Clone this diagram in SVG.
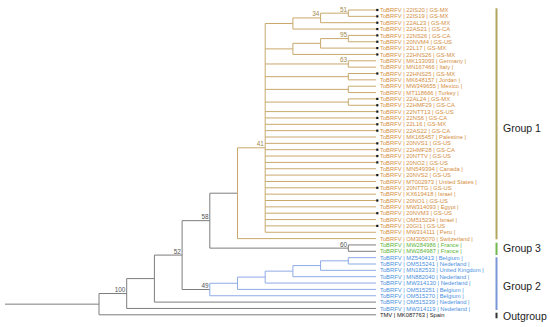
<svg xmlns="http://www.w3.org/2000/svg" width="550" height="327" viewBox="0 0 550 327">
<style>
.br{fill:none;stroke-width:1}
.gy{stroke:#7d7d7d}
.or{stroke:#c9a86c}
.bl{stroke:#8eabe6}
.t{font-family:"Liberation Sans",Arial,sans-serif;font-size:5.8px}
.to{fill:#d48e3e}
.tg{fill:#5cb53a}
.tb{fill:#4a8fe0}
.tk{fill:#222}
.bs{font-family:"Liberation Sans",Arial,sans-serif;font-size:6.4px;text-anchor:end;fill:#555}
.bso{fill:#a38a50}
.gl{font-family:"Liberation Sans",Arial,sans-serif;font-size:10.5px;fill:#222}
.mk{fill:#111}
</style>
<rect width="550" height="327" fill="#fff"/>
<g id="connectors">
<path class="br gy" d="M5,304.16H99M99,293.52V314.8M99,314.8H376M99,293.52H126.7M126.7,278.6V308.45M126.7,308.45H376M126.7,278.6H154.4M154.4,255.09V302.1M154.4,302.1H376M154.4,255.09H182.1M182.1,220.67V289.5M182.1,289.5H209.8M182.1,220.67H209.8M209.8,193.2V248.13M209.8,193.2H237.5M209.8,248.13H348.3M348.3,244.95V251.3M348.3,244.95H376M348.3,251.3H376"/>
<path class="br or" d="M237.5,147.81V238.6M237.5,238.6H376M237.5,147.81H265.2M265.2,23.49V232.25
M265.2,23.49H292.9M292.9,17.94V29.05M292.9,29.05H376M292.9,17.94H320.6M320.6,13.18V22.7M320.6,22.7H376M320.6,13.18H348.3M348.3,10V16.35M348.3,10H376M348.3,16.35H376
M265.2,48.89H292.9M292.9,43.34V54.45M292.9,54.45H376M292.9,43.34H320.6M320.6,38.58V48.1M320.6,48.1H376M320.6,38.58H348.3M348.3,35.4V41.75M348.3,35.4H376M348.3,41.75H376
M265.2,63.98H348.3M348.3,60.8V67.15M348.3,60.8H376M348.3,67.15H376
M265.2,76.68H348.3M348.3,73.5V79.85M348.3,73.5H376M348.3,79.85H376
M265.2,89.38H348.3M348.3,86.2V92.55M348.3,86.2H376M348.3,92.55H376
M265.2,102.08H348.3M348.3,98.9V105.25M348.3,98.9H376M348.3,105.25H376
M265.2,111.6H376M265.2,117.95H376M265.2,124.3H376M265.2,130.65H376M265.2,137H376M265.2,143.35H376M265.2,149.7H376M265.2,156.05H376M265.2,162.4H376M265.2,168.75H376M265.2,175.1H376M265.2,181.45H376M265.2,187.8H376M265.2,194.15H376M265.2,200.5H376M265.2,206.85H376M265.2,213.2H376M265.2,219.55H376M265.2,225.9H376M265.2,232.25H376"/>
<path class="br bl" d="M209.8,283.25V295.75M209.8,295.75H376M209.8,283.25H237.5M237.5,277.1V289.4M237.5,289.4H376M237.5,277.1H265.2M265.2,271.14V283.05M265.2,283.05H376M265.2,271.14H292.9M292.9,265.59V276.7M292.9,276.7H376M292.9,265.59H320.6M320.6,260.83V270.35M320.6,270.35H376M320.6,260.83H348.3M348.3,257.65V264M348.3,257.65H376M348.3,264H376"/>
</g>
<g id="bootstrap">
<text class="bs bso" x="347" y="11.5">51</text>
<text class="bs bso" x="319.3" y="16.2">34</text>
<text class="bs bso" x="347" y="36.9">95</text>
<text class="bs bso" x="347" y="62.3">63</text>
<text class="bs bso" x="263.9" y="145.8">41</text>
<text class="bs" x="208.5" y="219">58</text>
<text class="bs" x="347" y="246.6">60</text>
<text class="bs" x="180.8" y="253.6">52</text>
<text class="bs" x="208.5" y="288">49</text>
<text class="bs" x="125.4" y="291.8">100</text>
</g>
<g id="tips">
<g id="tip-22IS20"><rect class="mk" x="376.2" y="8.9" width="2.2" height="2.2"/><text class="t to" x="380" y="12.1">ToBRFV | 22IS20 | GS-MX</text></g>
<g id="tip-22IS19"><rect class="mk" x="376.2" y="15.25" width="2.2" height="2.2"/><text class="t to" x="380" y="18.45">ToBRFV | 22IS19 | GS-MX</text></g>
<g id="tip-22AL23"><rect class="mk" x="376.2" y="21.6" width="2.2" height="2.2"/><text class="t to" x="380" y="24.8">ToBRFV | 22AL23 | GS-MX</text></g>
<g id="tip-22AS21"><rect class="mk" x="376.2" y="27.95" width="2.2" height="2.2"/><text class="t to" x="380" y="31.15">ToBRFV | 22AS21 | GS-CA</text></g>
<g id="tip-22NS26"><rect class="mk" x="376.2" y="34.3" width="2.2" height="2.2"/><text class="t to" x="380" y="37.5">ToBRFV | 22NS26 | GS-CA</text></g>
<g id="tip-20NVM4"><rect class="mk" x="376.2" y="40.65" width="2.2" height="2.2"/><text class="t to" x="380" y="43.85">ToBRFV | 20NVM4 | GS-US</text></g>
<g id="tip-22L17"><rect class="mk" x="376.2" y="47" width="2.2" height="2.2"/><text class="t to" x="380" y="50.2">ToBRFV | 22L17 | GS-MX</text></g>
<g id="tip-22HNS26"><rect class="mk" x="376.2" y="53.35" width="2.2" height="2.2"/><text class="t to" x="380" y="56.55">ToBRFV | 22HNS26 | GS-MX</text></g>
<g id="tip-MK133093"><text class="t to" x="380" y="62.9">ToBRFV | MK133093 | Germany |</text></g>
<g id="tip-MN167466"><text class="t to" x="380" y="69.25">ToBRFV | MN167466 | Italy |</text></g>
<g id="tip-22HNS25"><rect class="mk" x="376.2" y="72.4" width="2.2" height="2.2"/><text class="t to" x="380" y="75.6">ToBRFV | 22HNS25 | GS-MX</text></g>
<g id="tip-MK648157"><text class="t to" x="380" y="81.95">ToBRFV | MK648157 | Jordan |</text></g>
<g id="tip-MW349655"><text class="t to" x="380" y="88.3">ToBRFV | MW349655 | Mexico |</text></g>
<g id="tip-MT118666"><text class="t to" x="380" y="94.65">ToBRFV | MT118666 | Turkey |</text></g>
<g id="tip-22AL24"><rect class="mk" x="376.2" y="97.8" width="2.2" height="2.2"/><text class="t to" x="380" y="101">ToBRFV | 22AL24 | GS-MX</text></g>
<g id="tip-22HMF29"><rect class="mk" x="376.2" y="104.15" width="2.2" height="2.2"/><text class="t to" x="380" y="107.35">ToBRFV | 22HMF29 | GS-CA</text></g>
<g id="tip-22NTT13"><rect class="mk" x="376.2" y="110.5" width="2.2" height="2.2"/><text class="t to" x="380" y="113.7">ToBRFV | 22NTT13 | GS-US</text></g>
<g id="tip-22NS6"><rect class="mk" x="376.2" y="116.85" width="2.2" height="2.2"/><text class="t to" x="380" y="120.05">ToBRFV | 22NS6 | GS-CA</text></g>
<g id="tip-22L16"><rect class="mk" x="376.2" y="123.2" width="2.2" height="2.2"/><text class="t to" x="380" y="126.4">ToBRFV | 22L16 | GS-MX</text></g>
<g id="tip-22AS22"><rect class="mk" x="376.2" y="129.55" width="2.2" height="2.2"/><text class="t to" x="380" y="132.75">ToBRFV | 22AS22 | GS-CA</text></g>
<g id="tip-MK165457"><text class="t to" x="380" y="139.1">ToBRFV | MK165457 | Palestine |</text></g>
<g id="tip-20NVS1"><rect class="mk" x="376.2" y="142.25" width="2.2" height="2.2"/><text class="t to" x="380" y="145.45">ToBRFV | 20NVS1 | GS-US</text></g>
<g id="tip-22HMF28"><rect class="mk" x="376.2" y="148.6" width="2.2" height="2.2"/><text class="t to" x="380" y="151.8">ToBRFV | 22HMF28 | GS-CA</text></g>
<g id="tip-20NTTV"><rect class="mk" x="376.2" y="154.95" width="2.2" height="2.2"/><text class="t to" x="380" y="158.15">ToBRFV | 20NTTV | GS-US</text></g>
<g id="tip-20NO2"><rect class="mk" x="376.2" y="161.3" width="2.2" height="2.2"/><text class="t to" x="380" y="164.5">ToBRFV | 20NO2 | GS-US</text></g>
<g id="tip-MN549394"><text class="t to" x="380" y="170.85">ToBRFV | MN549394 | Canada |</text></g>
<g id="tip-20NVS2"><rect class="mk" x="376.2" y="174" width="2.2" height="2.2"/><text class="t to" x="380" y="177.2">ToBRFV | 20NVS2 | GS-US</text></g>
<g id="tip-MT002973"><text class="t to" x="380" y="183.55">ToBRFV | MT002973 | United States |</text></g>
<g id="tip-20NTTG"><rect class="mk" x="376.2" y="186.7" width="2.2" height="2.2"/><text class="t to" x="380" y="189.9">ToBRFV | 20NTTG | GS-US</text></g>
<g id="tip-KX619418"><text class="t to" x="380" y="196.25">ToBRFV | KX619418 | Israel |</text></g>
<g id="tip-20NO1"><rect class="mk" x="376.2" y="199.4" width="2.2" height="2.2"/><text class="t to" x="380" y="202.6">ToBRFV | 20NO1 | GS-US</text></g>
<g id="tip-MW314093"><text class="t to" x="380" y="208.95">ToBRFV | MW314093 | Egypt |</text></g>
<g id="tip-20NVM3"><rect class="mk" x="376.2" y="212.1" width="2.2" height="2.2"/><text class="t to" x="380" y="215.3">ToBRFV | 20NVM3 | GS-US</text></g>
<g id="tip-OM515234"><text class="t to" x="380" y="221.65">ToBRFV | OM515234 | Israel |</text></g>
<g id="tip-20GI1"><rect class="mk" x="376.2" y="224.8" width="2.2" height="2.2"/><text class="t to" x="380" y="228">ToBRFV | 20GI1 | GS-US</text></g>
<g id="tip-MW314111"><text class="t to" x="380" y="234.35">ToBRFV | MW314111 | Peru |</text></g>
<g id="tip-OM305070"><text class="t to" x="380" y="240.7">ToBRFV | OM305070 | Switzerland |</text></g>
<g id="tip-MW284986"><text class="t tg" x="380" y="247.05">ToBRFV | MW284986 | France |</text></g>
<g id="tip-MW284987"><text class="t tg" x="380" y="253.4">ToBRFV | MW284987 | France |</text></g>
<g id="tip-MZ540413"><text class="t tb" x="380" y="259.75">ToBRFV | MZ540413 | Belgium |</text></g>
<g id="tip-OM515241"><text class="t tb" x="380" y="266.1">ToBRFV | OM515241 | Nederland |</text></g>
<g id="tip-MN182533"><text class="t tb" x="380" y="272.45">ToBRFV | MN182533 | United Kingdom |</text></g>
<g id="tip-MN882040"><text class="t tb" x="380" y="278.8">ToBRFV | MN882040 | Nederland |</text></g>
<g id="tip-MW314130"><text class="t tb" x="380" y="285.15">ToBRFV | MW314130 | Nederland |</text></g>
<g id="tip-OM515251"><text class="t tb" x="380" y="291.5">ToBRFV | OM515251 | Belgium |</text></g>
<g id="tip-OM515270"><text class="t tb" x="380" y="297.85">ToBRFV | OM515270 | Belgium |</text></g>
<g id="tip-OM515239"><text class="t tb" x="380" y="304.2">ToBRFV | OM515239 | Nederland |</text></g>
<g id="tip-MW314119"><text class="t tb" x="380" y="310.55">ToBRFV | MW314119 | Nederland |</text></g>
<g id="tip-MK087763"><text class="t tk" x="380" y="316.9">TMV | MK087763 | Spain</text></g>
</g>
<g id="group-1"><rect x="495.5" y="8.3" width="2" height="231" fill="#b3a55e"/><text class="gl" x="503" y="132">Group 1</text></g>
<g id="group-3"><rect x="495.5" y="242.7" width="2" height="12.3" fill="#73b84e"/><text class="gl" x="503" y="252">Group 3</text></g>
<g id="group-2"><rect x="495.5" y="257.3" width="2" height="52.7" fill="#7b95d9"/><text class="gl" x="503" y="289.5">Group 2</text></g>
<g id="outgroup"><rect x="495.5" y="312.7" width="2" height="5.6" fill="#333"/><text class="gl" x="503" y="319.5">Outgroup</text></g>
</svg>
